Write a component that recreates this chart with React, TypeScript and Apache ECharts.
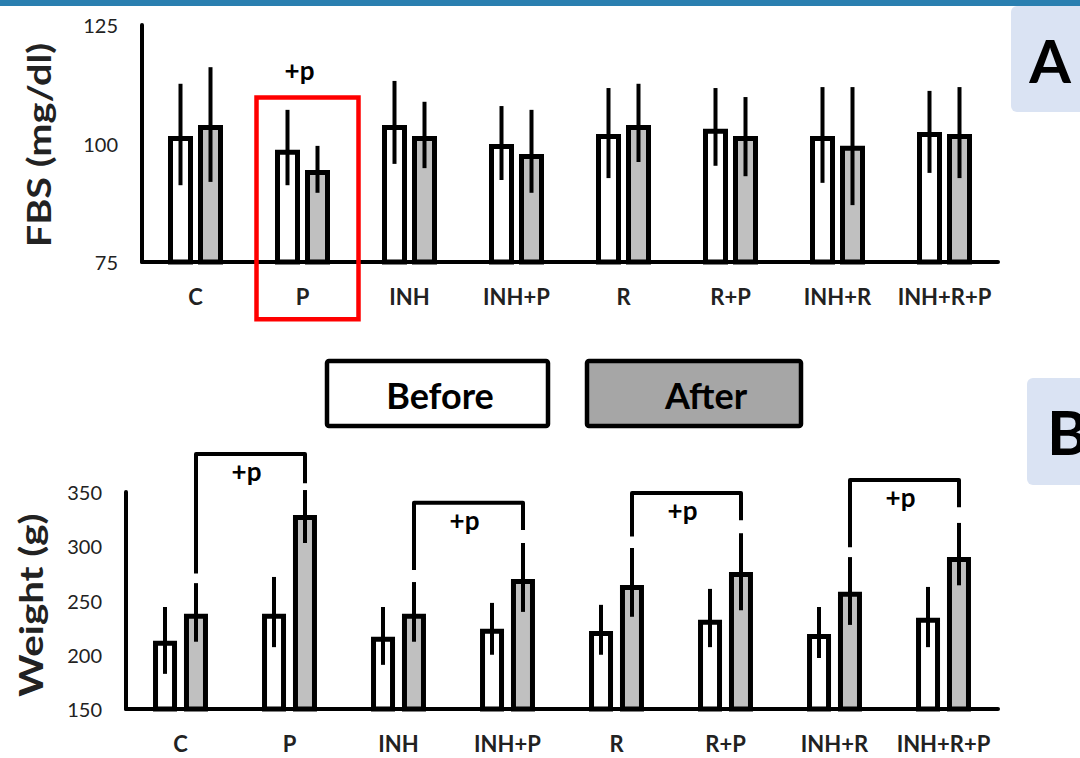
import React, { useEffect, useRef } from "react";
import * as echarts from "echarts";

const categories = ["C", "P", "INH", "INH+P", "R", "R+P", "INH+R", "INH+R+P"];

// Panel A: FBS (mg/dl)
const fbsBefore = [101.6, 98.7, 103.9, 99.9, 102.0, 103.1, 101.6, 102.4];
const fbsBeforeLow = [91.2, 91.2, 95.7, 92.3, 92.7, 95.3, 91.7, 93.8];
const fbsBeforeHigh = [112.6, 107.1, 113.2, 107.9, 111.7, 111.7, 111.9, 111.1];
const fbsAfter = [103.9, 94.4, 101.6, 97.8, 103.9, 101.6, 99.5, 102.0];
const fbsAfterLow = [91.9, 89.6, 94.8, 89.6, 96.1, 93.1, 87.0, 92.7];
const fbsAfterHigh = [116.1, 99.5, 108.8, 107.1, 112.6, 109.8, 111.9, 111.9];
const fbsTicks = [75, 100, 125];

// Panel B: Weight (g)
const wBefore = [212.8, 237.7, 216.5, 223.9, 222.0, 232.2, 219.2, 234.0];
const wBeforeLow = [182.4, 207, 190.7, 200, 200, 207, 197, 207];
const wBeforeHigh = [244, 271.7, 244, 247.8, 246, 260.7, 244, 262.5];
const wAfter = [237.7, 328.9, 237.7, 269.9, 264.2, 276.2, 258.0, 290.2];
const wAfterLow = [212, 303, 212, 239.5, 235, 241, 227.5, 264];
const wAfterHigh = [266, 351.8, 267, 303, 298.4, 312, 290, 321.5];
const wTicks = [150, 200, 250, 300, 350];

// Significance brackets in panel B (category from/to, top value, leg ends)
const bracketFrom = [0, 2, 4, 6];
const bracketTo = [1, 3, 5, 7];
const bracketTop = [385, 340, 349, 361];
const bracketLeftEnd = [275, 278, 309, 299];
const bracketRightEnd = [358, 315, 324, 336];

// Highlight box in panel A: category, top value, bottom value, label value
const highlightCat = 1;
const highlightTop = 109.7;
const highlightBottom = 62.9;
const highlightLabel = 115.5;

const FONT = "Lato, 'Noto Sans', sans-serif";
const BORDER = 5;

function errSeries(
  xi: number,
  lows: number[],
  highs: number[],
  off: number
): any {
  return {
    type: "custom",
    xAxisIndex: xi,
    yAxisIndex: xi,
    z: 5,
    clip: false,
    data: lows.map((l, i) => [i, l, highs[i]]),
    encode: { x: 0, y: [1, 2] },
    renderItem: (params: any, api: any) => {
      const idx = api.value(0);
      const lo = api.coord([idx, api.value(1)]);
      const hi = api.coord([idx, api.value(2)]);
      return {
        type: "line",
        shape: { x1: lo[0] + off, y1: lo[1], x2: hi[0] + off, y2: hi[1] },
        style: { stroke: "#000", lineWidth: 4 },
      };
    },
  };
}

export default function App() {
  const ref = useRef<HTMLDivElement>(null);

  useEffect(() => {
    if (!ref.current) return;
    const chart = echarts.init(ref.current, null, { renderer: "svg" });

    const xAxisCommon = (gi: number, margin: number) => ({
      gridIndex: gi,
      type: "category",
      data: categories,
      axisLine: { show: true, lineStyle: { color: "#000", width: 4 } },
      axisTick: { show: false },
      axisLabel: {
        fontWeight: "bold",
        fontSize: 22,
        lineHeight: 20,
        color: "#222",
        margin,
        fontFamily: FONT,
        interval: 0,
      },
    });

    const yAxisCommon = (gi: number, ticks: number[]) => ({
      gridIndex: gi,
      type: "value",
      min: ticks[0],
      max: ticks[ticks.length - 1],
      interval: ticks[1] - ticks[0],
      axisLine: { show: true, lineStyle: { color: "#000", width: 4 } },
      axisTick: { show: false },
      splitLine: { show: false },
      axisLabel: { fontSize: 20, color: "#222", margin: 24, fontFamily: FONT },
    });

    const barStyle = (fill: string) => ({
      color: fill,
      borderColor: "#000",
      borderWidth: BORDER,
    });

    const option: any = {
      animation: false,
      backgroundColor: "#fff",
      textStyle: { fontFamily: FONT },
      grid: [
        { left: 142, right: 82, top: 25, height: 237 },
        { left: 126, right: 82, top: 492, height: 217 },
      ],
      xAxis: [xAxisCommon(0, 24), xAxisCommon(1, 24)],
      yAxis: [yAxisCommon(0, fbsTicks), yAxisCommon(1, wTicks)],
      series: [
        {
          name: "Before",
          type: "bar",
          xAxisIndex: 0,
          yAxisIndex: 0,
          data: fbsBefore,
          barWidth: 25,
          barGap: "20%",
          itemStyle: barStyle("#fff"),
        },
        {
          name: "After",
          type: "bar",
          xAxisIndex: 0,
          yAxisIndex: 0,
          data: fbsAfter,
          barWidth: 25,
          barGap: "20%",
          itemStyle: barStyle("#c0c0c0"),
        },
        errSeries(0, fbsBeforeLow, fbsBeforeHigh, -15),
        errSeries(0, fbsAfterLow, fbsAfterHigh, 15),
        {
          name: "Before",
          type: "bar",
          xAxisIndex: 1,
          yAxisIndex: 1,
          data: wBefore,
          barWidth: 24,
          barGap: "29%",
          itemStyle: barStyle("#fff"),
        },
        {
          name: "After",
          type: "bar",
          xAxisIndex: 1,
          yAxisIndex: 1,
          data: wAfter,
          barWidth: 24,
          barGap: "29%",
          itemStyle: barStyle("#c0c0c0"),
        },
        errSeries(1, wBeforeLow, wBeforeHigh, -15.5),
        errSeries(1, wAfterLow, wAfterHigh, 15.5),
        {
          type: "custom",
          xAxisIndex: 1,
          yAxisIndex: 1,
          z: 6,
          clip: false,
          data: bracketFrom.map((f, i) => [
            f,
            bracketTo[i],
            bracketTop[i],
            bracketLeftEnd[i],
            bracketRightEnd[i],
          ]),
          encode: { x: [0, 1], y: [2, 3, 4] },
          renderItem: (params: any, api: any) => {
            const off = 15.5;
            const a = api.coord([api.value(0), api.value(2)]);
            const b = api.coord([api.value(1), api.value(2)]);
            const le = api.coord([api.value(0), api.value(3)]);
            const re = api.coord([api.value(1), api.value(4)]);
            const xl = a[0] + off;
            const xr = b[0] + off;
            return {
              type: "group",
              children: [
                {
                  type: "polyline",
                  shape: {
                    points: [
                      [xl, le[1]],
                      [xl, a[1]],
                      [xr, a[1]],
                      [xr, re[1]],
                    ],
                  },
                  style: {
                    stroke: "#000",
                    lineWidth: 4,
                    fill: null,
                    lineJoin: "round",
                  },
                },
                {
                  type: "text",
                  x: (xl + xr) / 2 - 4,
                  y: a[1] + 17,
                  style: {
                    text: "+p",
                    fontSize: 26,
                    fontWeight: "bold",
                    fontFamily: FONT,
                    fill: "#000",
                    align: "center",
                    verticalAlign: "middle",
                  },
                },
              ],
            };
          },
        },
        {
          type: "custom",
          xAxisIndex: 0,
          yAxisIndex: 0,
          z: 6,
          clip: false,
          data: [[highlightCat, highlightTop, highlightBottom, highlightLabel]],
          encode: { x: 0, y: [1, 2, 3] },
          renderItem: (params: any, api: any) => {
            const t = api.coord([api.value(0), api.value(1)]);
            const bt = api.coord([api.value(0), api.value(2)]);
            const lb = api.coord([api.value(0), api.value(3)]);
            return {
              type: "group",
              children: [
                {
                  type: "rect",
                  shape: { x: t[0] - 46, y: t[1], width: 102, height: bt[1] - t[1] },
                  style: { stroke: "#ff0000", lineWidth: 4.5, fill: null },
                },
                {
                  type: "text",
                  x: lb[0] - 3,
                  y: lb[1],
                  style: {
                    text: "+p",
                    fontSize: 26,
                    fontWeight: "bold",
                    fontFamily: FONT,
                    fill: "#000",
                    align: "center",
                    verticalAlign: "middle",
                  },
                },
              ],
            };
          },
        },
      ],
      graphic: [
        {
          type: "rect",
          left: 0,
          top: 0,
          shape: { width: 1080, height: 6 },
          style: { fill: "#2a7fb0" },
        },
        {
          type: "rect",
          shape: { x: 1011, y: 6, width: 80, height: 106, r: [6, 0, 0, 6] },
          style: { fill: "#dae3f3" },
        },
        {
          type: "text",
          x: 1050,
          y: 60,
          style: {
            text: "A",
            fontSize: 60,
            fontWeight: "bold",
            fontFamily: FONT,
            fill: "#000",
            align: "center",
            verticalAlign: "middle",
          },
        },
        {
          type: "rect",
          shape: { x: 1027, y: 378, width: 70, height: 107, r: [6, 0, 0, 6] },
          style: { fill: "#dae3f3" },
        },
        {
          type: "text",
          x: 1047,
          y: 431,
          style: {
            text: "B",
            fontSize: 62,
            fontWeight: "bold",
            fontFamily: FONT,
            fill: "#000",
            align: "left",
            verticalAlign: "middle",
          },
        },
        {
          type: "rect",
          shape: { x: 327, y: 361, width: 221, height: 65, r: 2 },
          style: { fill: "#fff", stroke: "#000", lineWidth: 4.5 },
        },
        {
          type: "text",
          x: 440,
          y: 395,
          style: {
            text: "Before",
            fontSize: 36,
            fontWeight: "bold",
            fontFamily: FONT,
            fill: "#000",
            align: "center",
            verticalAlign: "middle",
          },
        },
        {
          type: "rect",
          shape: { x: 587, y: 361, width: 214, height: 65, r: 2 },
          style: { fill: "#a6a6a6", stroke: "#000", lineWidth: 4.5 },
        },
        {
          type: "text",
          x: 706,
          y: 395,
          style: {
            text: "After",
            fontSize: 36,
            fontWeight: "bold",
            fontFamily: FONT,
            fill: "#000",
            align: "center",
            verticalAlign: "middle",
          },
        },
        {
          type: "text",
          x: 38,
          y: 145,
          rotation: Math.PI / 2,
          scaleX: 1.2,
          style: {
            text: "FBS (mg/dl)",
            fontSize: 33,
            fontWeight: "bold",
            fontFamily: FONT,
            fill: "#222",
            align: "center",
            verticalAlign: "middle",
          },
        },
        {
          type: "text",
          x: 30,
          y: 605,
          rotation: Math.PI / 2,
          scaleX: 1.22,
          style: {
            text: "Weight (g)",
            fontSize: 33,
            fontWeight: "bold",
            fontFamily: FONT,
            fill: "#222",
            align: "center",
            verticalAlign: "middle",
          },
        },
      ],
    };

    chart.setOption(option);
    return () => chart.dispose();
  }, []);

  return (
    <div
      ref={ref}
      style={{
        position: "fixed",
        left: 0,
        top: 0,
        width: 1080,
        height: 758,
        background: "#fff",
      }}
    />
  );
}
